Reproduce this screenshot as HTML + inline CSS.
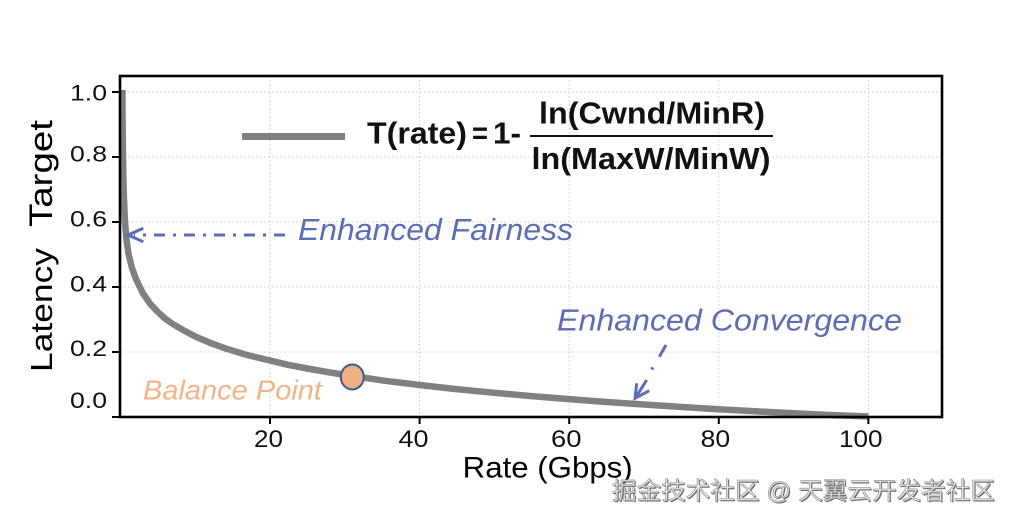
<!DOCTYPE html>
<html>
<head>
<meta charset="utf-8">
<style>
  html,body{margin:0;padding:0;background:#fff;}
  svg{display:block;}
  text{font-family:"Liberation Sans","Noto Sans CJK SC",sans-serif;}
</style>
</head>
<body>
<svg width="1012" height="520" viewBox="0 0 1012 520" xmlns="http://www.w3.org/2000/svg">
  <rect x="0" y="0" width="1012" height="520" fill="#fff"/>

  <!-- grid -->
  <g stroke="#c8c8c8" stroke-width="1" stroke-dasharray="1.5 2.5" fill="none">
    <line x1="120" y1="92" x2="942" y2="92"/>
    <line x1="120" y1="157" x2="942" y2="157"/>
    <line x1="120" y1="222" x2="942" y2="222"/>
    <line x1="120" y1="287" x2="942" y2="287"/>
    <line x1="120" y1="352" x2="942" y2="352"/>
    <line x1="270" y1="76" x2="270" y2="417"/>
    <line x1="419.6" y1="76" x2="419.6" y2="417"/>
    <line x1="569.2" y1="76" x2="569.2" y2="417"/>
    <line x1="718.8" y1="76" x2="718.8" y2="417"/>
    <line x1="868.4" y1="76" x2="868.4" y2="417"/>
  </g>

  <!-- curve -->
  <polyline fill="none" stroke="#808080" stroke-width="6.5" stroke-linejoin="round" stroke-linecap="butt"
    points="122.5,90 122.6,120 122.9,150 123.3,175 124,200 125,222 126.5,240 128.5,254 132,268 136,279 143,293.5 150.3,304 157.8,312 165,318.5 172.8,324 184,330.5 195.2,336.5 210,342.8 225.1,348.3 247,355 270,360.5 288,364.8 307.4,368.5 330,372.5 352.3,376 385,380.8 419.6,385 455,389 494.4,392.8 530,396 569.2,399.1 605,401.9 644,404.5 680,406.9 718.8,409.2 755,411.3 793.6,413.3 830,415 868.4,416.5"/>

  <!-- frame -->
  <rect x="120" y="76" width="822" height="341" fill="none" stroke="#000" stroke-width="2.6"/>

  <!-- ticks -->
  <g stroke="#000" stroke-width="2">
    <line x1="112" y1="92" x2="120" y2="92"/>
    <line x1="112" y1="157" x2="120" y2="157"/>
    <line x1="112" y1="222" x2="120" y2="222"/>
    <line x1="112" y1="287" x2="120" y2="287"/>
    <line x1="112" y1="352" x2="120" y2="352"/>
    <line x1="112" y1="417" x2="120" y2="417"/>
    <line x1="270" y1="417" x2="270" y2="424"/>
    <line x1="419.6" y1="417" x2="419.6" y2="424"/>
    <line x1="569.2" y1="417" x2="569.2" y2="424"/>
    <line x1="718.8" y1="417" x2="718.8" y2="424"/>
    <line x1="868.4" y1="417" x2="868.4" y2="424"/>
  </g>

  <!-- y tick labels -->
  <g font-size="22" fill="#111">
    <text x="70" y="100.5" textLength="37" lengthAdjust="spacingAndGlyphs">1.0</text>
    <text x="70" y="161.5" textLength="37" lengthAdjust="spacingAndGlyphs">0.8</text>
    <text x="70" y="226.5" textLength="37" lengthAdjust="spacingAndGlyphs">0.6</text>
    <text x="70" y="291.5" textLength="37" lengthAdjust="spacingAndGlyphs">0.4</text>
    <text x="70" y="356" textLength="37" lengthAdjust="spacingAndGlyphs">0.2</text>
    <text x="70" y="408" textLength="37" lengthAdjust="spacingAndGlyphs">0.0</text>
  </g>

  <!-- x tick labels -->
  <g font-size="24" fill="#111">
    <text x="254" y="447" textLength="29" lengthAdjust="spacingAndGlyphs">20</text>
    <text x="398.5" y="447" textLength="30" lengthAdjust="spacingAndGlyphs">40</text>
    <text x="551" y="447" textLength="30.5" lengthAdjust="spacingAndGlyphs">60</text>
    <text x="700.7" y="447" textLength="29.5" lengthAdjust="spacingAndGlyphs">80</text>
    <text x="839" y="447" textLength="43.5" lengthAdjust="spacingAndGlyphs">100</text>
  </g>

  <!-- axis labels -->
  <text x="462.7" y="477.3" font-size="30" fill="#000" textLength="170" lengthAdjust="spacingAndGlyphs">Rate (Gbps)</text>
  <text transform="translate(52,372) rotate(-90)" font-size="31" fill="#000" textLength="124" lengthAdjust="spacingAndGlyphs">Latency</text>
  <text transform="translate(52,227) rotate(-90)" font-size="32" fill="#000" textLength="107" lengthAdjust="spacingAndGlyphs">Target</text>

  <!-- legend -->
  <line x1="242" y1="136.5" x2="345" y2="136.5" stroke="#808080" stroke-width="7"/>
  <g font-size="31" font-weight="bold" fill="#111">
    <text x="367" y="143.5" textLength="100" lengthAdjust="spacingAndGlyphs">T(rate)</text>
    <text x="472" y="143.5" textLength="16" lengthAdjust="spacingAndGlyphs">=</text>
    <text x="493" y="143.5" textLength="28" lengthAdjust="spacingAndGlyphs">1-</text>
    <text x="539" y="123.3" textLength="226" lengthAdjust="spacingAndGlyphs">ln(Cwnd/MinR)</text>
    <text x="531.5" y="169" textLength="239" lengthAdjust="spacingAndGlyphs">ln(MaxW/MinW)</text>
  </g>
  <line x1="530" y1="136" x2="773" y2="136" stroke="#111" stroke-width="2"/>

  <!-- Enhanced Fairness annotation -->
  <line x1="285" y1="235" x2="134" y2="235" stroke="#5a6db5" stroke-width="3" stroke-dasharray="11 8 3 8"/>
  <polyline points="143.3,228.3 128,235 143.3,241.7" fill="none" stroke="#5a6db5" stroke-width="3" stroke-linejoin="miter"/>
  <text x="298" y="240" font-size="31" font-style="italic" fill="#5a6db5" textLength="275" lengthAdjust="spacingAndGlyphs">Enhanced Fairness</text>

  <!-- Enhanced Convergence annotation -->
  <text x="557" y="330.5" font-size="31" font-style="italic" fill="#5a6db5" textLength="345" lengthAdjust="spacingAndGlyphs">Enhanced Convergence</text>
  <g stroke="#5a6db5" stroke-width="3" fill="none" stroke-linecap="butt">
    <line x1="666" y1="345" x2="659.3" y2="356.7"/>
    <line x1="653" y1="367.3" x2="651.6" y2="369.5"/>
    <line x1="646.7" y1="380" x2="636" y2="397"/>
    <polyline points="636.7,383.3 635,398.3 649.3,390.7" stroke-linejoin="miter"/>
  </g>

  <!-- Balance point -->
  <text x="143" y="399.3" font-size="28" font-style="italic" fill="#f1b488" textLength="179" lengthAdjust="spacingAndGlyphs">Balance Point</text>
  <ellipse cx="352.3" cy="377" rx="11.5" ry="12.5" fill="#f0b07f" stroke="#3c5a9a" stroke-width="2"/>

  <!-- watermark -->
  <text x="613" y="500" font-size="24" fill="#666" textLength="383" lengthAdjust="spacingAndGlyphs" font-family="'Liberation Sans','Noto Sans CJK SC',sans-serif">掘金技术社区 @ 天翼云开发者社区</text>
  <text x="612" y="499" font-size="24" fill="#e6e6e6" stroke="#8a8a8a" stroke-width="0.6" textLength="383" lengthAdjust="spacingAndGlyphs" font-family="'Liberation Sans','Noto Sans CJK SC',sans-serif">掘金技术社区 @ 天翼云开发者社区</text>
</svg>
</body>
</html>
